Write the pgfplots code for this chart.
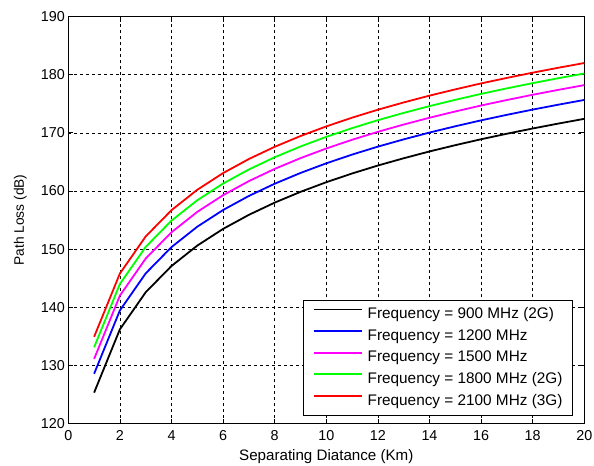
\documentclass[border=0pt]{standalone}
\usepackage{fontspec}
\setmainfont{Liberation Sans}
\usepackage{pgfplots}
\pgfplotsset{compat=1.18}
\definecolor{mblue}{RGB}{0,0,255}
\definecolor{mmag}{RGB}{255,0,255}
\definecolor{mgreen}{RGB}{0,255,0}
\definecolor{mred}{RGB}{255,0,0}
\begin{document}
\begin{tikzpicture}
\useasboundingbox (-68.3bp,-42.5bp) rectangle (525.7bp,423.5bp);
\begin{axis}[
 scale only axis, width=516bp, height=407bp,
 xmin=0, xmax=20, ymin=120, ymax=190,
 xtick={0,2,...,20}, ytick={120,130,...,190},
 grid=major,
 major grid style={black, line width=0.5bp, dash pattern=on 3bp off 3bp},
 tick align=inside, tick pos=both, major tick length=5bp,
 axis line style={black, line width=0.8bp},
 every tick/.style={black, line width=0.6bp},
 tick label style={font=\fontsize{14.4}{16}\selectfont},
 /pgf/number format/assume math mode=true,
 xticklabel style={yshift=-3.4bp},
 xlabel={Separating Diatance (Km)},
 ylabel={Path Loss (dB)},
 xlabel style={font=\fontsize{15.2}{18}\selectfont, at={(axis description cs:0.5,-0.0921)}, anchor=base},
 ylabel style={font=\fontsize{13.8}{16}\selectfont, at={(axis description cs:-0.093,0.5)}, anchor=center},
 legend cell align=left,
 legend style={at={(axis description cs:0.9777,0.0184)}, anchor=south east,
   draw=black, line width=0.6bp, fill=white,
   font=\fontsize{15.4}{18}\selectfont,
   inner xsep=10bp, inner ysep=7.1bp, row sep=7.1bp,
   nodes={inner sep=0bp, text height=11bp, text depth=3.5bp}},
 legend image code/.code={\draw[#1] (0bp,5.5bp) -- (48bp,5.5bp); \path (53bp,0bp);},
 every axis plot/.append style={line width=1.8bp},
]
\addplot[black] coordinates {(1,125.3) (2,136.2) (3,142.57) (4,147.09) (5,150.6) (6,153.47) (7,155.89) (8,157.99) (9,159.84) (10,161.5) (11,163.0) (12,164.37) (13,165.62) (14,166.79) (15,167.87) (16,168.89) (17,169.84) (18,170.74) (19,171.59) (20,172.4)};
\addlegendentry{Frequency = 900 MHz (2G)}
\addplot[mblue] coordinates {(1,128.55) (2,139.45) (3,145.82) (4,150.34) (5,153.85) (6,156.72) (7,159.14) (8,161.24) (9,163.09) (10,164.75) (11,166.25) (12,167.62) (13,168.87) (14,170.04) (15,171.12) (16,172.14) (17,173.09) (18,173.99) (19,174.84) (20,175.65)};
\addlegendentry{Frequency = 1200 MHz}
\addplot[mmag] coordinates {(1,131.1) (2,142.0) (3,148.37) (4,152.89) (5,156.4) (6,159.27) (7,161.69) (8,163.79) (9,165.64) (10,167.3) (11,168.8) (12,170.17) (13,171.42) (14,172.59) (15,173.67) (16,174.69) (17,175.64) (18,176.54) (19,177.39) (20,178.2)};
\addlegendentry{Frequency = 1500 MHz}
\addplot[mgreen] coordinates {(1,133.1) (2,144.0) (3,150.37) (4,154.89) (5,158.4) (6,161.27) (7,163.69) (8,165.79) (9,167.64) (10,169.3) (11,170.8) (12,172.17) (13,173.42) (14,174.59) (15,175.67) (16,176.69) (17,177.64) (18,178.54) (19,179.39) (20,180.2)};
\addlegendentry{Frequency = 1800 MHz (2G)}
\addplot[mred] coordinates {(1,134.9) (2,145.8) (3,152.17) (4,156.69) (5,160.2) (6,163.07) (7,165.49) (8,167.59) (9,169.44) (10,171.1) (11,172.6) (12,173.97) (13,175.22) (14,176.39) (15,177.47) (16,178.49) (17,179.44) (18,180.34) (19,181.19) (20,182.0)};
\addlegendentry{Frequency = 2100 MHz (3G)}
\end{axis}
\end{tikzpicture}
\end{document}
